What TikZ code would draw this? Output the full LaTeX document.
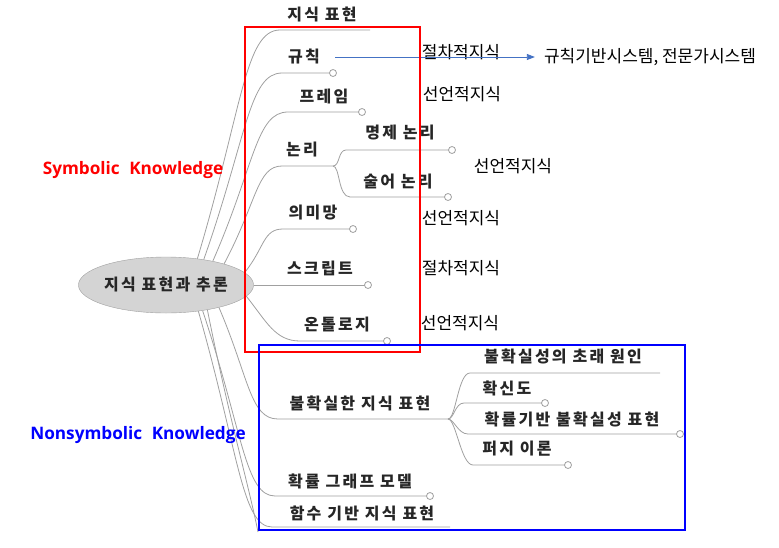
\documentclass[tikz,border=0pt]{standalone}
\usepackage{fontspec}
\setmainfont{Noto Sans CJK KR}
\newfontfamily\labelfont{Open Sans}
\usetikzlibrary{arrows.meta,shapes.geometric}
\definecolor{linegray}{RGB}{160,160,160}
\definecolor{rootfill}{RGB}{212,212,212}
\definecolor{flowblue}{RGB}{68,114,196}
\newcommand\topicfont{\fontsize{16}{18}\selectfont\bfseries\addfontfeature{LetterSpace=14}}
\newcommand\notefont{\fontsize{17}{19}\selectfont}
\newcommand\groupfont{\labelfont\fontsize{17.2}{20}\selectfont\bfseries}

\begin{document}
\begin{tikzpicture}[x=1pt,y=-1pt,
  branch/.style={draw=linegray, line width=0.8pt},
  topic/.style={font=\topicfont, text=black!85, inner sep=1pt},
  note/.style={font=\notefont, inner sep=1pt},
  tipdot/.style={draw=linegray, fill=white, line width=0.8pt},
  flow/.style={draw=flowblue, line width=0.8pt, -{Triangle[length=8pt,width=6pt]}},
  group/.style={line width=2.5pt}]
\useasboundingbox (0,0) rectangle (779,547);

\node[ellipse, draw=linegray, fill=rootfill, minimum width=164pt, minimum height=56pt, inner sep=0pt, font=\topicfont, text=black!85] (root) at (166,285) {지식 표현과 추론};

\node[topic] (repr) at (322,14) {지식 표현};
\coordinate (repr-s) at (280,30); \coordinate (repr-e) at (370,30);
\draw[branch] (root.40) .. controls +(45,-150) and +(-35,0) .. (repr-s) -- (repr-e);

\node[topic] (rule) at (304,57) {규칙};
\coordinate (rule-s) at (282,73); \coordinate (rule-e) at (333,73);
\draw[branch] (root.34) .. controls +(43,-122) and +(-33,0) .. (rule-s) -- (rule-e);
\draw[tipdot] (rule-e) circle (3.5pt);

\node[topic] (frame) at (324,96) {프레임};
\coordinate (frame-s) at (288,112); \coordinate (frame-e) at (362,112);
\draw[branch] (root.27) .. controls +(42,-96) and +(-32,0) .. (frame-s) -- (frame-e);
\draw[tipdot] (frame-e) circle (3.5pt);

\node[topic] (logic) at (302,150) {논리};
\coordinate (logic-s) at (282,166); \coordinate (logic-j) at (333,166);
\draw[branch] (root.20) .. controls +(33,-62) and +(-25,0) .. (logic-s) -- (logic-j);

\node[topic] (prop) at (400,133) {명제 논리};
\coordinate (prop-s) at (346,150); \coordinate (prop-e) at (452,150);
\draw[branch] (logic-j) .. controls +(7,0) and +(-8,0) .. (prop-s) -- (prop-e);
\draw[tipdot] (prop-e) circle (3.5pt);

\node[topic] (pred) at (398,182) {술어 논리};
\coordinate (pred-s) at (350,197); \coordinate (pred-e) at (448,197);
\draw[branch] (logic-j) .. controls +(7,0) and +(-12,0) .. (pred-s) -- (pred-e);
\draw[tipdot] (pred-e) circle (3.5pt);

\node[topic] (net) at (313,213) {의미망};
\coordinate (net-s) at (283,229); \coordinate (net-e) at (353,229);
\draw[branch] (root.9) .. controls +(20,-25) and +(-20,0) .. (net-s) -- (net-e);
\draw[tipdot] (net-e) circle (3.5pt);

\node[topic] (script) at (320,268) {스크립트};
\coordinate (script-e) at (368,285);
\draw[branch] (root.east) -- (script-e);
\draw[tipdot] (script-e) circle (3.5pt);

\node[topic] (onto) at (337,325) {온톨로지};
\coordinate (onto-s) at (300,341); \coordinate (onto-e) at (387,341);
\draw[branch] (root.-8) .. controls +(20,25) and +(-25,0) .. (onto-s) -- (onto-e);
\draw[tipdot] (onto-e) circle (3.5pt);

\node[topic] (uncert) at (360,403) {불확실한 지식 표현};
\coordinate (uncert-s) at (278,419); \coordinate (uncert-j) at (448,419);
\draw[branch] (root.-23) .. controls +(30,70) and +(-28,0) .. (uncert-s) -- (uncert-j);

\node[topic] (cause) at (563,356) {불확실성의 초래 원인};
\coordinate (cause-s) at (470,373); \coordinate (cause-e) at (660,373);
\draw[branch] (uncert-j) .. controls +(8,0) and +(-12,0) .. (cause-s) -- (cause-e);

\node[topic] (belief) at (507,388) {확신도};
\coordinate (belief-s) at (464,403); \coordinate (belief-e) at (545,403);
\draw[branch] (uncert-j) .. controls +(6,0) and +(-9,0) .. (belief-s) -- (belief-e);
\draw[tipdot] (belief-e) circle (3.5pt);

\node[topic] (prob) at (572,419) {확률기반 불확실성 표현};
\coordinate (prob-s) at (468,434); \coordinate (prob-e) at (680,434);
\draw[branch] (uncert-j) .. controls +(6,0) and +(-10,0) .. (prob-s) -- (prob-e);
\draw[tipdot] (prob-e) circle (3.5pt);

\node[topic] (fuzzy) at (517,449) {퍼지 이론};
\coordinate (fuzzy-s) at (473,465); \coordinate (fuzzy-e) at (568,465);
\draw[branch] (uncert-j) .. controls +(8,0) and +(-12,0) .. (fuzzy-s) -- (fuzzy-e);
\draw[tipdot] (fuzzy-e) circle (3.5pt);

\node[topic] (graph) at (350,481) {확률 그래프 모델};
\coordinate (graph-s) at (275,496); \coordinate (graph-e) at (430,496);
\draw[branch] (root.-35) .. controls +(40,120) and +(-30,0) .. (graph-s) -- (graph-e);
\draw[tipdot] (graph-e) circle (3.5pt);

\node[topic] (func) at (362,513) {함수 기반 지식 표현};
\coordinate (func-s) at (272,527); \coordinate (func-e) at (450,527);
\draw[branch] (root.-39) .. controls +(40,140) and +(-30,0) .. (func-s) -- (func-e);

\coordinate (more) at (258,532);
\draw[branch] (root.-31) .. controls +(22,110) and +(-10,-50) .. (more);

\node[note] (proc1) at (461,52) {절차적지식};
\node[note] (rulesys) at (650,57) {규칙기반시스템, 전문가시스템};
\draw[flow] ([xshift=14pt]rule.east) -- ([xshift=-8pt]rulesys.west);
\node[note] (decl1) at (462,94) {선언적지식};
\node[note] (decl2) at (513,166) {선언적지식};
\node[note] (decl3) at (461,218) {선언적지식};
\node[note] (proc2) at (461,268) {절차적지식};
\node[note] (decl4) at (460,323) {선언적지식};

\node[font=\groupfont, text=red] (symb) at (133,170) {Symbolic\hspace{5pt} Knowledge};
\node[font=\groupfont, text=blue] (nonsymb) at (138,435) {Nonsymbolic\hspace{5pt} Knowledge};

\draw[group, red] (245,27) rectangle (420,352);
\draw[group, blue] (259,345) rectangle (685,530);
\end{tikzpicture}
\end{document}
